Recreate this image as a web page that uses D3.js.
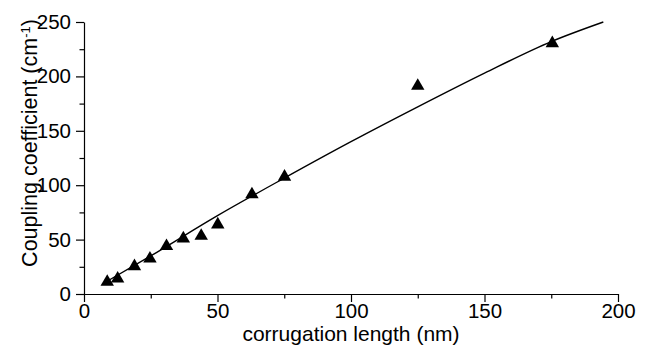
<!DOCTYPE html>
<html>
<head>
<meta charset="utf-8">
<script src="https://cdn.jsdelivr.net/npm/d3@7"></script>
<style>
  body { margin: 0; background: #fff; }
  svg { display: block; font-family: "Liberation Sans", Arial, sans-serif; }
  .axis path, .axis line { stroke: #000; stroke-width: 1.2; }
  .axis text { font-size: 20.5px; fill: #000; }
  .fit { fill: none; stroke: #000; stroke-width: 1.4; }
</style>
</head>
<body>
<svg id="chart" width="646" height="348"></svg>
<script>
// measured points (triangles)
const lengthNm = [8.7, 12.6, 18.9, 24.7, 30.9, 37.2, 43.9, 50.1, 62.9, 75.1, 125, 175.4];
const coupling = [12.9, 15.9, 27.3, 34.3, 45.8, 52.8, 55.2, 65.7, 93.3, 109.6, 193.1, 232.3];

// fitted curve
const fitX = [8, 25, 50, 75, 100, 125, 150, 175, 194.5];
const fitY = [10.8, 35, 72, 106.5, 140, 172, 203, 232, 250];

const xTicks = [0, 50, 100, 150, 200];
const xMinor = [25, 75, 125, 175];
const yTicks = [0, 50, 100, 150, 200, 250];
const yMinor = [25, 75, 125, 175, 225];

const xLabel = 'corrugation length (nm)';

const svg = d3.select('#chart');
const margin = {top: 22, right: 28, bottom: 54, left: 84},
    width = 646, height = 348,
    chartWidth = 618 - margin.left,
    chartHeight = 294 - margin.top;

const xScale = d3.scaleLinear().domain([0, 200]).range([0, chartWidth]);
const yScale = d3.scaleLinear().domain([0, 250]).range([chartHeight, 0]);

const g = svg.append('g')
    .attr('transform', `translate(${margin.left}, ${margin.top})`);

// minor ticks
g.append('g')
    .attr('class', 'axis')
    .attr('transform', `translate(0, ${chartHeight})`)
    .call(d3.axisBottom(xScale).tickValues(xMinor).tickSize(4.5).tickFormat(''))
    .select('.domain').remove();
g.append('g')
    .attr('class', 'axis')
    .call(d3.axisLeft(yScale).tickValues(yMinor).tickSize(4.5).tickFormat(''))
    .select('.domain').remove();

// x axis
g.append('g')
    .attr('class', 'axis')
    .attr('transform', `translate(0, ${chartHeight})`)
    .call(d3.axisBottom(xScale).tickValues(xTicks).tickSizeInner(8).tickSizeOuter(0).tickPadding(1));

// y axis
g.append('g')
    .attr('class', 'axis')
    .call(d3.axisLeft(yScale).tickValues(yTicks).tickSizeInner(8).tickSizeOuter(0).tickPadding(5));

// fit line
const fitData = fitX.map((x, i) => ({x: x, y: fitY[i]}));
const line = d3.line()
    .x(d => xScale(d.x))
    .y(d => yScale(d.y))
    .curve(d3.curveMonotoneX);
g.append('path')
    .datum(fitData)
    .attr('class', 'fit')
    .attr('d', line);

// triangles (symbol is centred on its centroid, shift to box centre)
const pts = lengthNm.map((x, i) => ({x: x, y: coupling[i]}));
g.selectAll('.pt')
    .data(pts)
  .enter().append('path')
    .attr('class', 'pt')
    .attr('d', d3.symbol().type(d3.symbolTriangle).size(78))
    .attr('transform', d => `translate(${xScale(d.x)}, ${yScale(d.y) + 2})`)
    .attr('fill', '#000');

// X label
svg.append('text')
    .attr('x', margin.left + chartWidth / 2)
    .attr('y', 340.5)
    .attr('text-anchor', 'middle')
    .style('font-size', '21px')
    .text(xLabel);

// Y label
const yl = svg.append('text')
    .attr('transform', 'rotate(-90)')
    .attr('x', -143)
    .attr('y', 37)
    .attr('text-anchor', 'middle')
    .style('font-size', '21.5px');
yl.append('tspan').text('Coupling coefficient (cm');
yl.append('tspan').attr('dy', '-0.55em').style('font-size', '13px').text('-1');
yl.append('tspan').attr('dy', '0.33em').text(')');
</script>
</body>
</html>
